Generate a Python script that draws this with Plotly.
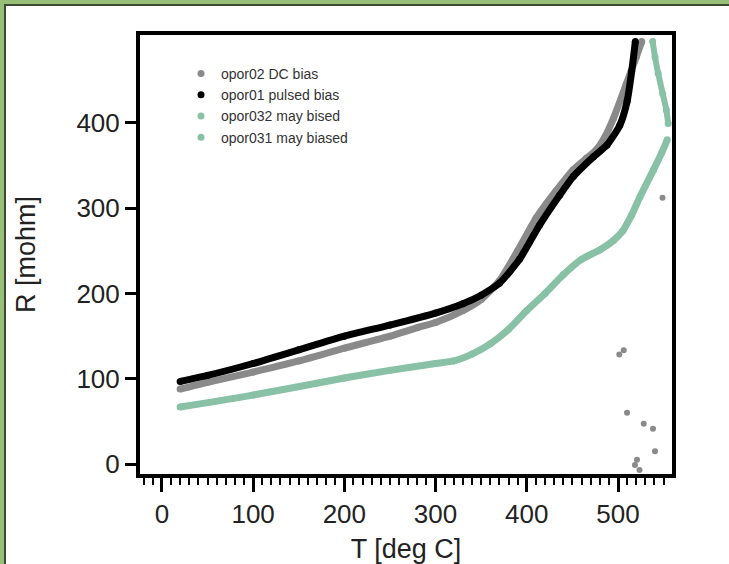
import plotly.graph_objects as go

# ---- data ----
dc_T = [20, 50, 100, 150, 200, 250, 280, 300, 330, 350, 370, 390, 410, 432, 451, 465, 476, 485, 495, 509, 520, 526]
dc_R = [88, 96, 108, 121, 136, 150, 160, 166, 180, 193, 215, 250, 288, 320, 345, 358, 368, 382, 405, 445, 477, 495]
dc_out_T = [501.4, 506.3, 509.9, 528.2, 538.4, 540.6, 520.8, 518.6, 523.6, 548.8]
dc_out_R = [128.4, 133.5, 60.4, 47.5, 41.7, 15.2, 5.4, -0.8, -6.7, 312]

pu_T = [20, 50, 100, 150, 200, 250, 300, 330, 350, 370, 392, 414, 436, 451, 473, 488, 502, 510, 515, 519]
pu_R = [97, 104, 118, 134, 150, 163, 177, 188, 198, 212, 240, 280, 315, 337, 360, 374, 397, 425, 460, 495]

m32_T = [20, 100, 200, 250, 300, 320, 340, 360, 380, 400, 420, 440, 460, 480, 495, 505, 515, 524, 539, 548, 554]
m32_R = [67, 81, 101, 110, 118, 121, 129, 141, 158, 180, 200, 222, 240, 251, 262, 273, 292, 313, 345, 365, 380]

m31_T = [538, 540.6, 544, 549, 553, 555]
m31_R = [495, 477, 458, 434, 415, 399]

names = ["opor02 DC bias", "opor01 pulsed bias", "opor032 may bised", "opor031 may biased"]
x_ticks = [0, 100, 200, 300, 400, 500]
y_ticks = [0, 100, 200, 300, 400]

GRAY = "#8a8a8a"
BLACK = "#000000"
GREEN = "#88c1a6"

fig = go.Figure()

def curve(T, R, color, name, width=7, legend=True):
    fig.add_trace(go.Scatter(x=T, y=R, mode="lines", line=dict(color=color, width=width, shape="spline", smoothing=0.6),
                             showlegend=False, legendgroup=name, hoverinfo="skip"))
    fig.add_trace(go.Scatter(x=T, y=R, mode="markers", marker=dict(color=color, size=7), name=name,
                             legendgroup=name, showlegend=legend))

curve(dc_T, dc_R, GRAY, names[0])
fig.add_trace(go.Scatter(x=dc_out_T, y=dc_out_R, mode="markers", marker=dict(color=GRAY, size=6),
                         showlegend=False, legendgroup=names[0]))
curve(pu_T, pu_R, BLACK, names[1])
curve(m32_T, m32_R, GREEN, names[2])
curve(m31_T, m31_R, GREEN, names[3], width=6)

W, H = 729, 564
L, R_, T_, B = 140, 57, 35, 90
pw, ph = W - L - R_, H - T_ - B

def px(x):
    return (x - L) / pw

def py(y):
    return (H - B - y) / ph

fig.add_shape(type="rect", xref="paper", yref="paper", x0=px(5), x1=px(800), y0=py(5), y1=py(700),
              fillcolor="white", line=dict(color="#3c4a34", width=2), layer="below")

font = "Liberation Sans, Arial, sans-serif"
fig.update_layout(
    width=W, height=H,
    margin=dict(l=L, r=R_, t=T_, b=B, autoexpand=False),
    paper_bgcolor="#97bf78",
    plot_bgcolor="white",
    font=dict(family=font, size=26, color="#222"),
    showlegend=True,
    legend=dict(x=px(181), y=py(58), xanchor="left", yanchor="top", bgcolor="rgba(0,0,0,0)",
                font=dict(size=14, color="#333", family=font), tracegroupgap=0),
    xaxis=dict(range=[-24, 559.2], showline=True, linewidth=4, linecolor="black", mirror=True,
               ticks="outside", ticklen=14, tickwidth=3, tickcolor="black", tickvals=x_ticks,
               showgrid=False, zeroline=False, automargin=False,
               minor=dict(dtick=10, ticks="outside", ticklen=7, tickwidth=2, tickcolor="black", showgrid=False),
               title=dict(text="T [deg C]", standoff=18, font=dict(size=27))),
    yaxis=dict(range=[-11.4, 502.7], showline=True, linewidth=4, linecolor="black", mirror=True,
               ticks="outside", ticklen=11, tickwidth=3, tickcolor="black", tickvals=y_ticks,
               showgrid=False, zeroline=False, automargin=False,
               title=dict(text="R [mohm]", standoff=34, font=dict(size=27))),
)

fig.write_html("out.html", post_script="document.body.style.margin='0px';",
               config={"displayModeBar": False})
